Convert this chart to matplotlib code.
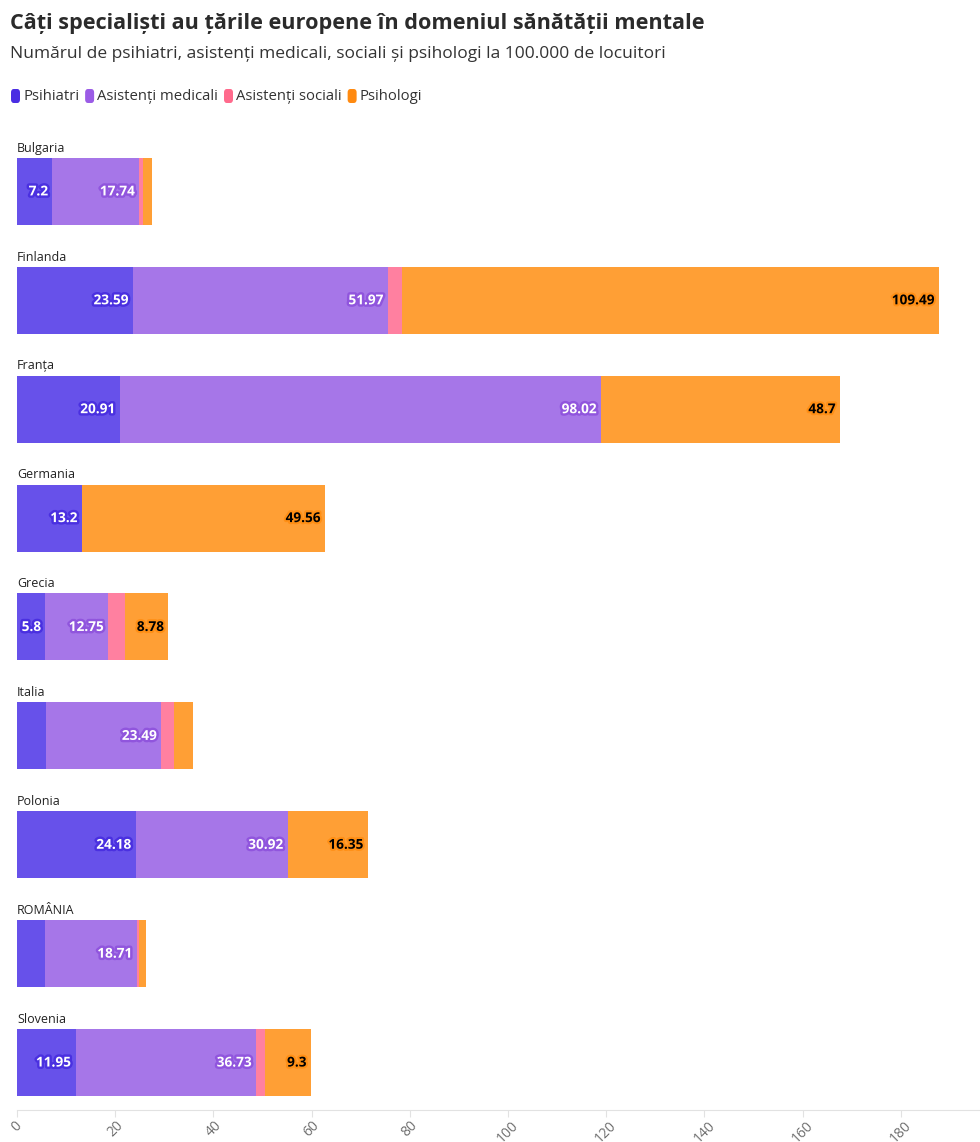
import matplotlib
matplotlib.use("Agg")
import matplotlib.pyplot as plt
import matplotlib.patheffects as pe
from matplotlib.patches import FancyBboxPatch
import numpy as np

plt.rcParams['font.family'] = ['Open Sans', 'DejaVu Sans']

countries = ["Bulgaria", "Finlanda", "Franța", "Germania", "Grecia", "Italia", "Polonia", "ROMÂNIA", "Slovenia"]
psihiatri = [7.2, 23.59, 20.91, 13.2, 5.8, 5.9, 24.18, 5.7, 11.95]
asist_medicali = [17.74, 51.97, 98.02, 0, 12.75, 23.49, 30.92, 18.71, 36.73]
asist_sociali = [0.8, 2.8, 0, 0, 3.5, 2.6, 0, 0.5, 1.9]
psihologi = [1.8, 109.49, 48.7, 49.56, 8.78, 3.9, 16.35, 1.4, 9.3]

show_psi = [True, True, True, True, True, False, True, False, True]
show_med = [True, True, True, False, True, True, True, True, True]
show_psih = [False, True, True, True, True, False, True, False, True]

series_names = ["Psihiatri", "Asistenți medicali", "Asistenți sociali", "Psihologi"]
legend_colors = ["#4a2de3", "#9b5ce6", "#ff6a8c", "#ff8a10"]
bar_colors = ["#6751ea", "#a676e8", "#ff80a0", "#ff9f35"]

W, H = 980, 1142
fig = plt.figure(figsize=(W / 100, H / 100), dpi=100)

ax_left, ax_right = 17, 980
ax_top, ax_bot = 130, 1110
ax = fig.add_axes([ax_left / W, (H - ax_bot) / H, (ax_right - ax_left) / W, (ax_bot - ax_top) / H])

n = len(countries)
y = np.arange(n)
bh = 0.615
xmax = (ax_right - ax_left) / 4.91

series = [psihiatri, asist_medicali, asist_sociali, psihologi]
left = np.zeros(n)
for vals, col in zip(series, bar_colors):
    v = np.array(vals, dtype=float)
    ax.barh(y, v, left=left, height=bh, color=col, edgecolor='none')
    left = left + v

ends_psi = np.array(psihiatri)
ends_med = ends_psi + np.array(asist_medicali)
ends_all = ends_med + np.array(asist_sociali) + np.array(psihologi)
pad = 0.9
for i in range(n):
    if show_psi[i]:
        ax.text(ends_psi[i] - pad, y[i], f"{psihiatri[i]:g}", ha='right', va='center',
                color='white', fontsize=9.8, fontweight='bold',
                path_effects=[pe.withStroke(linewidth=3.5, foreground='#4a30e0')])
    if show_med[i]:
        ax.text(ends_med[i] - pad, y[i], f"{asist_medicali[i]:g}", ha='right', va='center',
                color='white', fontsize=9.8, fontweight='bold',
                path_effects=[pe.withStroke(linewidth=3.5, foreground='#9055dd')])
    if show_psih[i]:
        ax.text(ends_all[i] - pad, y[i], f"{psihologi[i]:g}", ha='right', va='center',
                color='black', fontsize=9.8, fontweight='bold',
                path_effects=[pe.withStroke(linewidth=3, foreground='#ff8f15')])
    ax.text(0, y[i] - bh / 2 - 0.03, countries[i], ha='left', va='bottom',
            color='#222222', fontsize=9)

for s in ['top', 'right', 'left']:
    ax.spines[s].set_visible(False)
ax.spines['bottom'].set_color('#e2e2e2')
ax.set_yticks([])
ticks = np.arange(0, 181, 20)
ax.set_xticks(ticks)
ax.set_xticklabels([str(t) for t in ticks], rotation=45, ha='center', color='#6f6f6f', fontsize=10)
ax.tick_params(axis='x', colors='#e2e2e2', length=5, labelcolor='#6f6f6f', pad=1)
ax.set_xlim(0, xmax)
ax.set_ylim(n - 1 + 0.436, -0.564)

fig.text(10 / W, 1 - 23 / H, "Câți specialiști au țările europene în domeniul sănătății mentale",
         ha='left', va='center', fontsize=15.6, fontweight='bold', color='#2b2b2b')
fig.text(10 / W, 1 - 54 / H, "Numărul de psihiatri, asistenți medicali, sociali și psihologi la 100.000 de locuitori",
         ha='left', va='center', fontsize=12.55, color='#333333')

xcur = 11
ly = 96
for name, col in zip(series_names, legend_colors):
    box = FancyBboxPatch((xcur / W, 1 - (ly + 7) / H), 9 / W, 14 / H,
                         boxstyle="round,pad=0,rounding_size=0.003", transform=fig.transFigure,
                         facecolor=col, edgecolor='none')
    fig.add_artist(box)
    t = fig.text((xcur + 12) / W, 1 - ly / H, name, ha='left', va='center', fontsize=10.7, color='#333333')
    fig.canvas.draw()
    bb = t.get_window_extent()
    xcur = bb.x1 + 6

fig.savefig("out.png", dpi=100)
